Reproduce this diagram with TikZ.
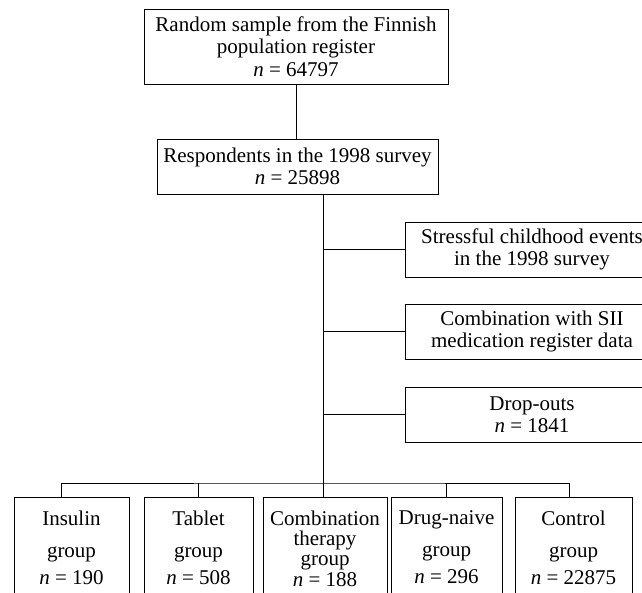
\documentclass[tikz,border=0pt]{standalone}
\usepackage{tikz}
\usepackage{fontspec}
\setmainfont{Liberation Serif}
\usetikzlibrary{calc}

\tikzset{
	flowbox/.style={draw, line width=1pt, align=center, inner sep=0pt,
		font=\fontsize{21}{22.5}\selectfont},
	groupbox/.style={flowbox, anchor=north, inner ysep=13.5pt},
	flowline/.style={line width=1pt}
}

\begin{document}
\begin{tikzpicture}[x=1pt, y=-1pt]
	
	\useasboundingbox (0,0) rectangle (642,592);
	\clip (0,0) rectangle (642,592);
	
	\node[flowbox, minimum width=304, minimum height=75] (rand) at (296,46.5) {Random sample from the Finnish\\ population register\\ \textit{n} = 64797};
	\node[flowbox, minimum width=281, minimum height=55] (resp) at (297.5,166.5) {Respondents in the 1998 survey\\ \textit{n} = 25898};
	
	\node[flowbox, minimum width=254, minimum height=55] (stress) at (532,249.5) {Stressful childhood events\\ in the 1998 survey};
	\node[flowbox, minimum width=254, minimum height=55] (sii) at (532,331.5) {Combination with SII\\ medication register data};
	\node[flowbox, minimum width=254, minimum height=55] (drop) at (532,414.5) {Drop-outs\\ \textit{n} = 1841};
	
	\node[groupbox, minimum width=115] (ins) at (71.5,497) {Insulin\\[9.5pt] group\\[4.5pt] \textit{n} = 190};
	\node[groupbox, minimum width=109] (tab) at (198.5,497) {Tablet\\[9.5pt] group\\[4.5pt] \textit{n} = 508};
	\node[groupbox, minimum width=124] (comb) at (325,497) {Combination\\[-2.5pt] therapy\\[-2.5pt] group\\[-1.5pt] \textit{n} = 188};
	\node[groupbox, minimum width=111] (naive) at (446.5,497) {Drug-naive\\[9.5pt] group\\[4.5pt] \textit{n} = 296};
	\node[groupbox, minimum width=117] (ctrl) at (573.5,497) {Control\\[9.5pt] group\\[4.5pt] \textit{n} = 22875};
	
	\coordinate (split) at (323,483);
	
	\draw[flowline] (rand.south) -- (rand.south |- resp.north);
	\draw[flowline] (resp.south -| split) -- (split);
	\draw[flowline] (stress.west -| split) -- (stress.west);
	\draw[flowline] (sii.west -| split) -- (sii.west);
	\draw[flowline] (drop.west -| split) -- (drop.west);
	
	\draw[flowline] ([xshift=-10.5pt]ins.north) |- (split) -| ([xshift=-4.5pt]ctrl.north);
	\draw[flowline] (tab.north) -- (tab.north |- split);
	\draw[flowline] ([xshift=-2pt]comb.north) -- (split);
	\draw[flowline] (naive.north) -- (naive.north |- split);
\end{tikzpicture}
\end{document}
